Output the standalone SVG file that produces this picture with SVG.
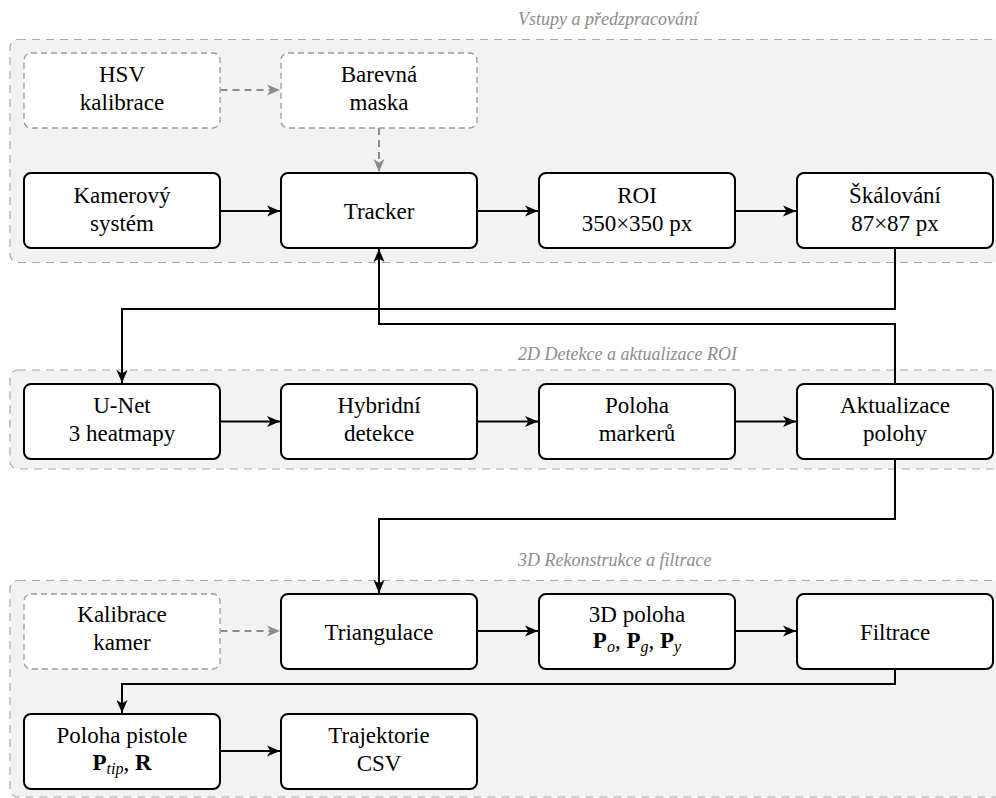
<svg xmlns="http://www.w3.org/2000/svg" width="996" height="798" viewBox="0 0 996 798">
<style>
.sec{fill:#f2f2f2;stroke:#aaaaaa;stroke-width:1.2;stroke-dasharray:8 6}
.stitle{font-family:'Liberation Serif','Times New Roman',Times,'DejaVu Serif',serif;font-style:italic;font-size:18px;fill:#8c8c8c}
.node{fill:#ffffff;stroke:#000000;stroke-width:2}
.dnode{fill:#ffffff;stroke:#999999;stroke-width:1.3;stroke-dasharray:6 4}
.t{font-family:'Liberation Serif','Times New Roman',Times,'DejaVu Serif',serif;font-size:23px;fill:#000000;text-anchor:middle}
.b{font-weight:bold}
.sub{font-style:italic;font-size:16px}
.c{fill:none;stroke:#000000;stroke-width:2}
.dc{fill:none;stroke:#8c8c8c;stroke-width:2;stroke-dasharray:7 5}
</style>
<defs>
<marker id="ah" markerUnits="userSpaceOnUse" markerWidth="14" markerHeight="12" refX="13" refY="6" orient="auto">
<path d="M0,0.5 L13,6 L0,11.5 L3.5,6 z" fill="#000000"/>
</marker>
<marker id="ahg" markerUnits="userSpaceOnUse" markerWidth="14" markerHeight="12" refX="13" refY="6" orient="auto">
<path d="M0,0.5 L13,6 L0,11.5 L3.5,6 z" fill="#8c8c8c"/>
</marker>
</defs>

<g id="sections">
<rect class="sec" x="10" y="39.5" width="1010" height="223" rx="8"/>
<text class="stitle" x="518" y="25">Vstupy a předzpracování</text>
<rect class="sec" x="10" y="370" width="1010" height="99" rx="8"/>
<text class="stitle" x="518" y="360">2D Detekce a aktualizace ROI</text>
<rect class="sec" x="10" y="580.5" width="1010" height="216.5" rx="8"/>
<text class="stitle" x="518" y="566">3D Rekonstrukce a filtrace</text>
</g>

<g id="connectors">
<path class="dc" d="M220.5,90 H280" marker-end="url(#ahg)"/>
<path class="dc" d="M379,128 V172" marker-end="url(#ahg)"/>
<path class="c" d="M220.5,211 H280" marker-end="url(#ah)"/>
<path class="c" d="M477,211 H538" marker-end="url(#ah)"/>
<path class="c" d="M735,211 H796" marker-end="url(#ah)"/>
<path class="c" d="M895,248.5 V309 H122 V383" marker-end="url(#ah)"/>
<path class="c" d="M895,384 V324 H379 V249" marker-end="url(#ah)"/>
<path class="c" d="M220.5,421.5 H280" marker-end="url(#ah)"/>
<path class="c" d="M477,421.5 H538" marker-end="url(#ah)"/>
<path class="c" d="M735,421.5 H796" marker-end="url(#ah)"/>
<path class="c" d="M895,459.5 V519 H379 V593" marker-end="url(#ah)"/>
<path class="dc" d="M220.5,631 H280" marker-end="url(#ahg)"/>
<path class="c" d="M477,631 H538" marker-end="url(#ah)"/>
<path class="c" d="M735,631 H796" marker-end="url(#ah)"/>
<path class="c" d="M895,669 V684 H122 V713" marker-end="url(#ah)"/>
<path class="c" d="M220.5,751 H280" marker-end="url(#ah)"/>
</g>

<g id="hsv">
<rect class="dnode" x="24" y="53" width="196" height="75" rx="7"/>
<text class="t" x="122" y="82">HSV</text>
<text class="t" x="122" y="110">kalibrace</text>
</g>
<g id="maska">
<rect class="dnode" x="281" y="53" width="196" height="75" rx="7"/>
<text class="t" x="379" y="82">Barevná</text>
<text class="t" x="379" y="110">maska</text>
</g>
<g id="kamera">
<rect class="node" x="24" y="173" width="196" height="75" rx="7"/>
<text class="t" x="122" y="202.5">Kamerový</text>
<text class="t" x="122" y="230.5">systém</text>
</g>
<g id="tracker">
<rect class="node" x="281" y="173" width="196" height="75" rx="7"/>
<text class="t" x="379" y="219">Tracker</text>
</g>
<g id="roi">
<rect class="node" x="539" y="173" width="196" height="75" rx="7"/>
<text class="t" x="637" y="202.5">ROI</text>
<text class="t" x="637" y="230.5">350×350 px</text>
</g>
<g id="skalovani">
<rect class="node" x="797" y="173" width="196" height="75" rx="7"/>
<text class="t" x="895" y="202.5">Škálování</text>
<text class="t" x="895" y="230.5">87×87 px</text>
</g>

<g id="unet">
<rect class="node" x="24" y="384" width="196" height="75" rx="7"/>
<text class="t" x="122" y="413">U-Net</text>
<text class="t" x="122" y="441">3 heatmapy</text>
</g>
<g id="hybrid">
<rect class="node" x="281" y="384" width="196" height="75" rx="7"/>
<text class="t" x="379" y="413">Hybridní</text>
<text class="t" x="379" y="441">detekce</text>
</g>
<g id="markery">
<rect class="node" x="539" y="384" width="196" height="75" rx="7"/>
<text class="t" x="637" y="413">Poloha</text>
<text class="t" x="637" y="441">markerů</text>
</g>
<g id="aktualizace">
<rect class="node" x="797" y="384" width="196" height="75" rx="7"/>
<text class="t" x="895" y="413">Aktualizace</text>
<text class="t" x="895" y="441">polohy</text>
</g>

<g id="kalibrace">
<rect class="dnode" x="24" y="594" width="196" height="75" rx="7"/>
<text class="t" x="122" y="622">Kalibrace</text>
<text class="t" x="122" y="650">kamer</text>
</g>
<g id="triangulace">
<rect class="node" x="281" y="594" width="196" height="75" rx="7"/>
<text class="t" x="379" y="639.5">Triangulace</text>
</g>
<g id="poloha3d">
<rect class="node" x="539" y="594" width="196" height="75" rx="7"/>
<text class="t" x="637" y="622">3D poloha</text>
<text class="t" x="637" y="648"><tspan class="b">P</tspan><tspan class="sub" dy="4">o</tspan><tspan dy="-4">, </tspan><tspan class="b">P</tspan><tspan class="sub" dy="4">g</tspan><tspan dy="-4">, </tspan><tspan class="b">P</tspan><tspan class="sub" dy="4">y</tspan></text>
</g>
<g id="filtrace">
<rect class="node" x="797" y="594" width="196" height="75" rx="7"/>
<text class="t" x="895" y="639.5">Filtrace</text>
</g>
<g id="pistole">
<rect class="node" x="24" y="714" width="196" height="75" rx="7"/>
<text class="t" x="122" y="743">Poloha pistole</text>
<text class="t" x="122" y="770"><tspan class="b">P</tspan><tspan class="sub" dy="4">tip</tspan><tspan dy="-4">, </tspan><tspan class="b">R</tspan></text>
</g>
<g id="trajektorie">
<rect class="node" x="281" y="714" width="196" height="75" rx="7"/>
<text class="t" x="379" y="743">Trajektorie</text>
<text class="t" x="379" y="771">CSV</text>
</g>
</svg>
